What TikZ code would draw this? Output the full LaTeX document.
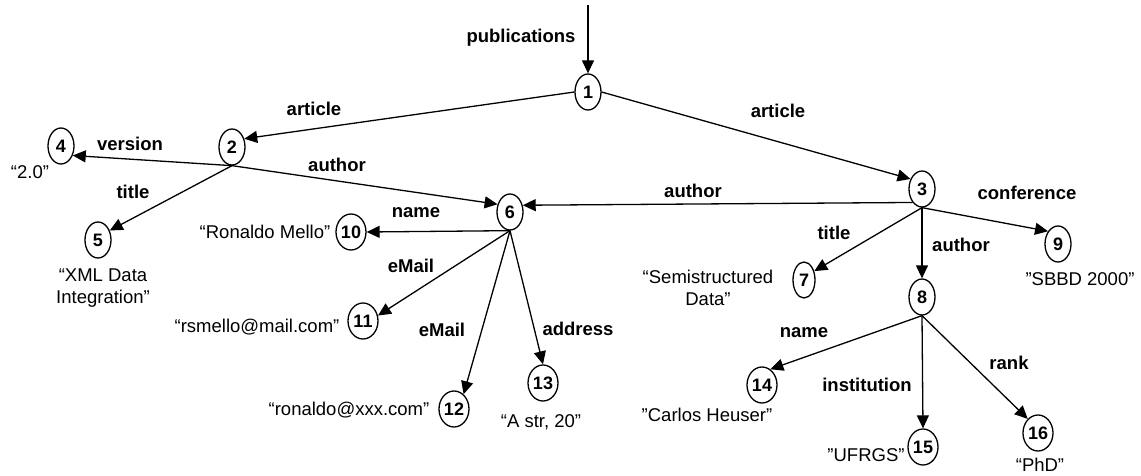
\documentclass[tikz,border=0pt]{standalone}
\usepackage{fontspec}
\setmainfont{Liberation Sans}
\usetikzlibrary{arrows.meta,shapes.geometric}

\begin{document}
\begin{tikzpicture}[x=1pt,y=-1pt,
  obj/.style={draw,ellipse,line width=1.3pt,inner sep=0pt,
    minimum width=26pt,minimum height=36pt,
    font=\fontsize{18}{20}\selectfont\bfseries},
  wide/.style={minimum width=30pt},
  lbl/.style={font=\fontsize{18.5}{21}\selectfont\bfseries,inner sep=0pt},
  val/.style={font=\fontsize{18.5}{22}\selectfont,inner sep=0pt,align=center},
  link/.style={-{Triangle[length=13pt,width=12pt]},line width=1.3pt}]

\useasboundingbox (0,0) rectangle (1141,476);

% object nodes
\node[obj] (n1) at (588,92) {1};
\node[obj] (n2) at (232,147) {2};
\node[obj] (n3) at (922,189) {3};
\node[obj] (n4) at (61,146) {4};
\node[obj] (n5) at (98,240) {5};
\node[obj] (n6) at (510,212) {6};
\node[obj,minimum width=22pt] (n7) at (804,280) {7};
\node[obj] (n8) at (922,297) {8};
\node[obj] (n9) at (1058,244) {9};
\node[obj,wide] (n10) at (351,232) {10};
\node[obj,wide] (n11) at (363,321) {11};
\node[obj,wide] (n12) at (454,409) {12};
\node[obj,wide] (n13) at (543,383) {13};
\node[obj,wide] (n14) at (762,385) {14};
\node[obj,wide] (n15) at (923,447) {15};
\node[obj,wide] (n16) at (1038,433) {16};
\coordinate (top) at (588,5);

% edges
\draw[link] (top) -- (n1.north);
\draw[link] (n1.west) -- (n2.34);
\draw[link] (n1.east) -- (n3.139);
\draw[link] (n2.south) -- (n4.-39);
\draw[link] (n2.south) -- (n6.148);
\draw[link] (n2.south) -- (n5.39);
\draw[link] (n3.235) -- (n6.28);
\draw[link] (n3.south) -- (n7.41);
\draw[link] (n3.south) -- (n8.north);
\draw[link] (n3.south) -- (n9.128);
\draw[link] (n6.south) -- (n10.east);
\draw[link] (n6.south) -- (n11.20);
\draw[link] (n6.south) -- (n12.57);
\draw[link] (n6.south) -- (n13.north);
\draw[link] (n8.south) -- (n14.62);
\draw[link] (n8.south) -- (n15.north);
\draw[link] (n8.south) -- (n16.126);

% edge labels
\node[lbl] (l1) at (521,38) {publications};
\node[lbl] (l2) at (314,109) {article};
\node[lbl] (l3) at (778,111) {article};
\node[lbl] (l4) at (130,144) {version};
\node[lbl] (l5) at (337,165) {author};
\node[lbl] (l6) at (133,192) {title};
\node[lbl] (l7) at (693,191) {author};
\node[lbl] (l8) at (1027,193) {conference};
\node[lbl] (l9) at (416,213) {name};
\node[lbl] (l10) at (411,266) {eMail};
\node[lbl] (l11) at (442,330) {eMail};
\node[lbl] (l12) at (578,329) {address};
\node[lbl] (l13) at (834,233) {title};
\node[lbl] (l14) at (961,245) {author};
\node[lbl] (l15) at (804,333) {name};
\node[lbl] (l16) at (1009,363) {rank};
\node[lbl] (l17) at (867,385) {institution};

% atomic values
\node[val] (v4) at (30,172) {“2.0”};
\node[val] (v5) at (103,288) {“XML Data\\Integration”};
\node[val] (v10) at (265,232) {“Ronaldo Mello”};
\node[val] (v11) at (257,327) {“rsmello@mail.com"};
\node[val] (v12) at (349,410) {“ronaldo@xxx.com"};
\node[val] (v13) at (541,422) {“A str, 20”};
\node[val] (v7) at (708,288) {“Semistructured\\Data”};
\node[val] (v9) at (1080,279) {"SBBD 2000"};
\node[val] (v14) at (707,415) {"Carlos Heuser"};
\node[val] (v15) at (866,455) {"UFRGS"};
\node[val] (v16) at (1040,465) {“PhD”};
\end{tikzpicture}
\end{document}
